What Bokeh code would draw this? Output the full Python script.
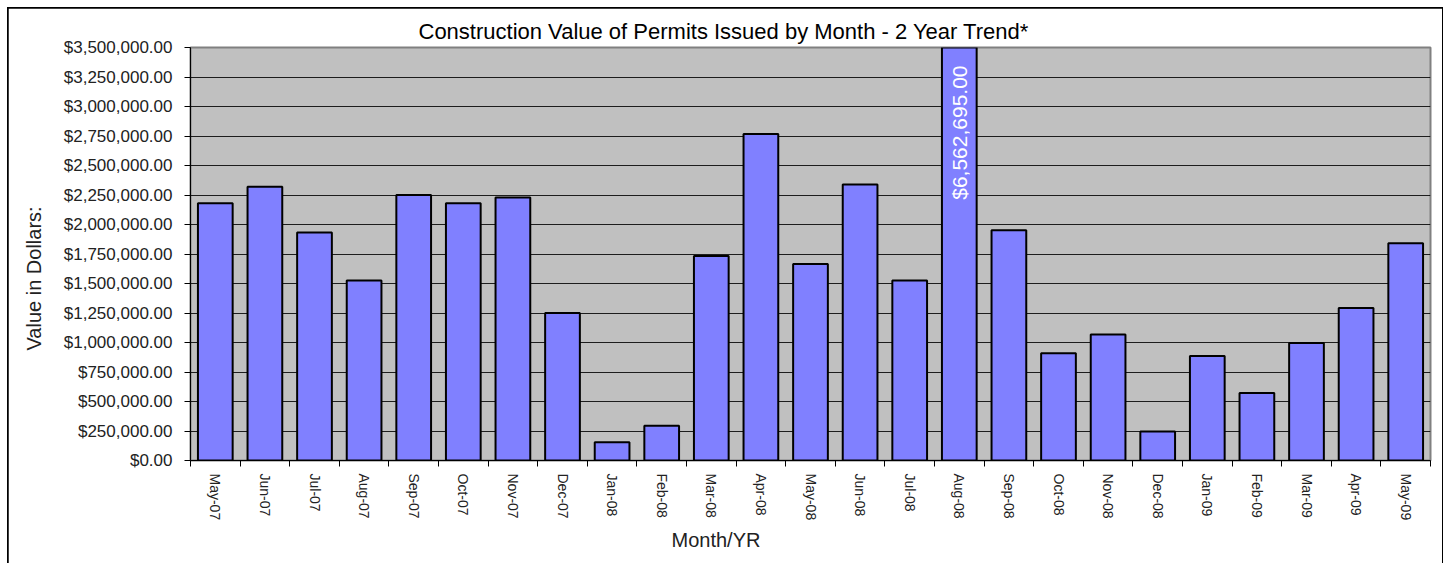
import math
from bokeh.plotting import figure
from bokeh.models import (Range1d, LinearAxis, FixedTicker,
                          SingleIntervalTicker, NumeralTickFormatter, Title, ColumnDataSource)
from bokeh.core.properties import value
from bokeh.embed import file_html
from bokeh.resources import INLINE

# ---- data ----
months = ["May-07", "Jun-07", "Jul-07", "Aug-07", "Sep-07", "Oct-07", "Nov-07", "Dec-07",
          "Jan-08", "Feb-08", "Mar-08", "Apr-08", "May-08", "Jun-08", "Jul-08", "Aug-08",
          "Sep-08", "Oct-08", "Nov-08", "Dec-08",
          "Jan-09", "Feb-09", "Mar-09", "Apr-09", "May-09"]
values = [2180000, 2320000, 1932000, 1525000, 2250000, 2180000, 2228000, 1250000,
          155000, 295000, 1733000, 2767000, 1665000, 2340000, 1525000, 6562695,
          1952000, 908000, 1068000, 245000,
          886000, 573000, 995000, 1293000, 1841000]
labelled_month = "Aug-08"
title_text = "Construction Value of Permits Issued by Month - 2 Year Trend*"
x_title = "Month/YR"
y_title = "Value in Dollars:"
y_max = 3500000
y_step = 250000

REG = "'Liberation Sans', Arial, sans-serif"

n = len(months)
idx = list(range(n))
src = ColumnDataSource(dict(pos=idx, month=months, val=values))

p = figure(width=1434, height=555, output_backend="svg", toolbar_location=None,
           x_range=Range1d(-0.5, n - 0.5),
           y_range=Range1d(0, y_max),
           x_axis_location=None, y_axis_location="left",
           min_border_left=178, min_border_right=12, min_border_top=39, min_border_bottom=103)
p.margin = (8, 0, 0, 8)
p.styles = {"outline": "2px solid black", "outline-offset": "-1px"}

p.background_fill_color = "#C0C0C0"
p.border_fill_color = "white"
p.outline_line_color = "#808080"
p.outline_line_width = 2

# title
p.title.text = title_text
p.title.align = "left"
p.title.offset = 228
p.title.text_font = REG
p.title.text_font_size = "22px"
p.title.text_font_style = "normal"
p.title.text_color = "black"
p.title.standoff = 8

# y axis
yax = p.yaxis[0]
yax.ticker = SingleIntervalTicker(interval=y_step, num_minor_ticks=0)
yax.formatter = NumeralTickFormatter(format="$0,0.00")
yax.major_tick_in = 0
yax.major_tick_out = 6
yax.minor_tick_line_color = None
yax.major_tick_line_color = "black"
yax.axis_line_color = "black"
yax.axis_line_width = 1
yax.major_label_standoff = 12
yax.major_label_text_font = REG
yax.major_label_text_font_size = "17px"
yax.major_label_text_color = "#222222"

p.ygrid.grid_line_color = "black"
p.ygrid.grid_line_width = 1
p.ygrid.grid_line_alpha = 0.85
p.xgrid.visible = False

# y title on left
p.add_layout(Title(text=y_title, align="left", offset=110, vertical_align="top",
                   text_font=REG, text_font_size="20px", text_font_style="normal",
                   text_color="#222222", standoff=28), "left")

# x axes: boundary ticks + month labels at bar centres
tick_axis = LinearAxis(ticker=FixedTicker(ticks=[i - 0.5 for i in range(n + 1)]),
                       major_tick_in=0, major_tick_out=6, minor_tick_line_color=None,
                       major_label_text_font_size="1px", major_label_text_color=None,
                       major_label_standoff=0,
                       axis_line_color="black", major_tick_line_color="black")
p.add_layout(tick_axis, "below")

lab_axis = LinearAxis(ticker=FixedTicker(ticks=idx),
                      major_label_overrides={i: m for i, m in zip(idx, months)},
                      major_label_orientation=-math.pi / 2,
                      major_tick_line_color=None, minor_tick_line_color=None,
                      axis_line_color=None,
                      major_tick_in=0, major_tick_out=0,
                      major_label_standoff=7,
                      major_label_text_font=REG,
                      major_label_text_font_size="14px",
                      major_label_text_color="#222222")
p.add_layout(lab_axis, "below")

p.add_layout(Title(text=x_title, align="left", offset=481, text_font=REG,
                   text_font_size="20px", text_font_style="normal", text_color="#222222",
                   standoff=6), "below")

# bars
p.vbar(x="pos", top="val", width=0.70, bottom=0, source=src,
       fill_color="#8080FF", line_color="black", line_width=2)

# data label for the off-scale bar
li = months.index(labelled_month)
lab_src = ColumnDataSource(dict(pos=[li], y=[y_max],
                                txt=["${:,.2f}".format(values[li])]))
p.text(x="pos", y="y", text="txt", source=lab_src, angle=math.pi / 2,
       text_align="right", text_baseline="middle", y_offset=18,
       text_color="white", text_font=value(REG), text_font_size="21px")

open("out.html", "w").write(file_html(p, INLINE))
